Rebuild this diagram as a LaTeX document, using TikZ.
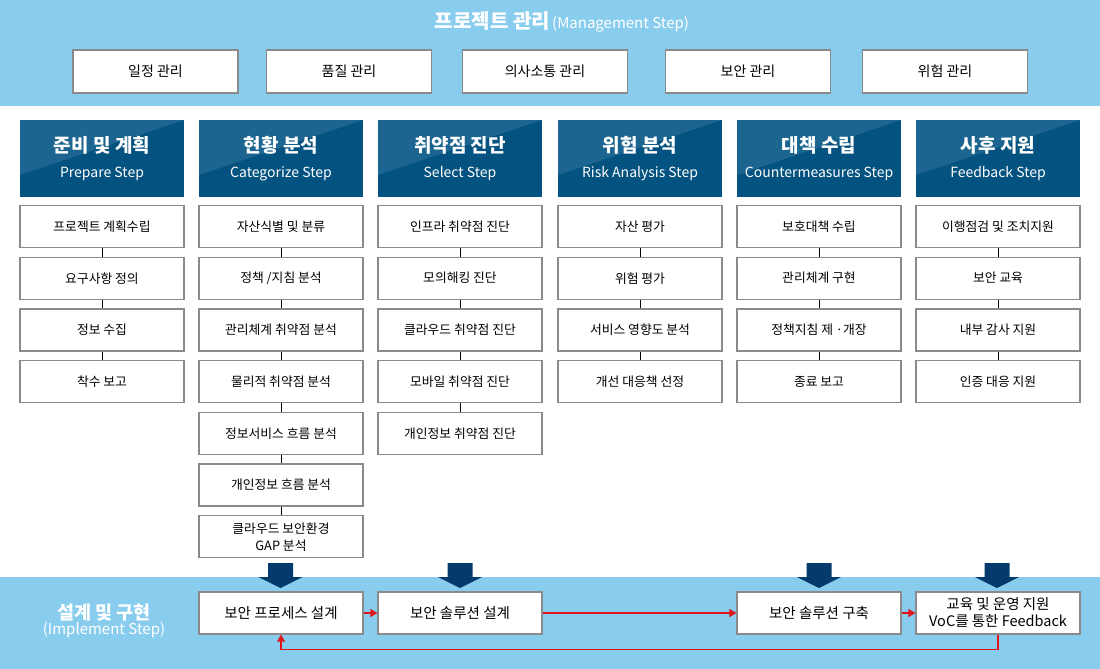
\documentclass[tikz,border=0pt]{standalone}
\usepackage{fontspec}
\setmainfont{Noto Sans CJK KR}
\usetikzlibrary{arrows.meta}

\definecolor{bandblue}{HTML}{89CDEE}
\definecolor{headblue}{HTML}{03527F}
\definecolor{glossblue}{HTML}{1B6590}
\definecolor{arrowblue}{HTML}{043B6C}
\definecolor{boxgray}{HTML}{8A8A8A}
\definecolor{flowred}{HTML}{E0141B}

\tikzset{
    mgmt/.style={draw=boxgray, line width=1.2pt, fill=white, minimum width=165pt,
        minimum height=43pt, font=\fontsize{14}{16}\selectfont},
    head/.style={fill=headblue, minimum width=164pt, minimum height=77pt, text=white,
        align=center, font=\fontsize{14}{25}\selectfont,
        path picture={\fill[glossblue] (path picture bounding box.north west)
            -- (path picture bounding box.north east)
            -- ([yshift=22pt]path picture bounding box.south west) -- cycle;}},
    item/.style={draw=boxgray, line width=1.2pt, fill=white, minimum width=164pt,
        minimum height=42pt, align=center, font=\fontsize{12.8}{17}\selectfont},
    impl/.style={item, font=\fontsize{14.5}{17}\selectfont},
    flow/.style={draw=flowred, line width=1.2pt, -{Triangle[length=7pt,width=8pt]}},
}

\begin{document}
\begin{tikzpicture}[x=1pt, y=-1pt]
        \useasboundingbox (0,0) rectangle (1100,669);
        \fill[bandblue] (0,0) rectangle (1100,106);
        \fill[bandblue] (0,577) rectangle (1100,669);

        \node[text=white] (title) at (562,22) {{\fontsize{20}{22}\selectfont\bfseries 프로젝트 관리} {\fontsize{15}{16}\selectfont (Management Step)}};
        \begin{scope}[every node/.style={mgmt}]
            \node (m1) at (155.5,71.5) {일정 관리};
            \node (m2) at (349,71.5) {품질 관리};
            \node (m3) at (545,71.5) {의사소통 관리};
            \node (m4) at (748,71.5) {보안 관리};
            \node (m5) at (945,71.5) {위험 관리};
        \end{scope}

        \begin{scope}[every node/.style={head}]
            \node (h1) at (102,158.5) {{\fontsize{19}{25}\selectfont\bfseries 준비 및 계획}\\Prepare Step};
            \node (h2) at (281,158.5) {{\fontsize{19}{25}\selectfont\bfseries 현황 분석}\\Categorize Step};
            \node (h3) at (460,158.5) {{\fontsize{19}{25}\selectfont\bfseries 취약점 진단}\\Select Step};
            \node (h4) at (640,158.5) {{\fontsize{19}{25}\selectfont\bfseries 위험 분석}\\Risk Analysis Step};
            \node (h5) at (819,158.5) {{\fontsize{19}{25}\selectfont\bfseries 대책 수립}\\Countermeasures Step};
            \node (h6) at (998,158.5) {{\fontsize{19}{25}\selectfont\bfseries 사후 지원}\\Feedback Step};
        \end{scope}

        \begin{scope}[every node/.style={item}]
            \node (a1) at (102,226.5) {프로젝트 계획수립};
            \node (a2) at (102,278.2) {요구사항 정의};
            \node (a3) at (102,329.9) {정보 수집};
            \node (a4) at (102,381.6) {착수 보고};
            \node (b1) at (281,226.5) {자산식별 및 분류};
            \node (b2) at (281,278.2) {정책 /지침 분석};
            \node (b3) at (281,329.9) {관리체계 취약점 분석};
            \node (b4) at (281,381.6) {물리적 취약점 분석};
            \node (b5) at (281,433.3) {정보서비스 흐름 분석};
            \node (b6) at (281,485) {개인정보 흐름 분석};
            \node (b7) at (281,536.7) {클라우드 보안환경\\GAP 분석};
            \node (c1) at (460,226.5) {인프라 취약점 진단};
            \node (c2) at (460,278.2) {모의해킹 진단};
            \node (c3) at (460,329.9) {클라우드 취약점 진단};
            \node (c4) at (460,381.6) {모바일 취약점 진단};
            \node (c5) at (460,433.3) {개인정보 취약점 진단};
            \node (d1) at (640,226.5) {자산 평가};
            \node (d2) at (640,278.2) {위험 평가};
            \node (d3) at (640,329.9) {서비스 영향도 분석};
            \node (d4) at (640,381.6) {개선 대응책 선정};
            \node (e1) at (819,226.5) {보호대책 수립};
            \node (e2) at (819,278.2) {관리체계 구현};
            \node (e3) at (819,329.9) {정책지침 제 ·개장};
            \node (e4) at (819,381.6) {종료 보고};
            \node (f1) at (998,226.5) {이행점검 및 조치지원};
            \node (f2) at (998,278.2) {보안 교육};
            \node (f3) at (998,329.9) {내부 감사 지원};
            \node (f4) at (998,381.6) {인증 대응 지원};
        \end{scope}
        \begin{scope}[line width=0.8pt]
            \path [-] (a1) edge (a2);
            \path [-] (a2) edge (a3);
            \path [-] (a3) edge (a4);
            \path [-] (b1) edge (b2);
            \path [-] (b2) edge (b3);
            \path [-] (b3) edge (b4);
            \path [-] (b4) edge (b5);
            \path [-] (b5) edge (b6);
            \path [-] (b6) edge (b7);
            \path [-] (c1) edge (c2);
            \path [-] (c2) edge (c3);
            \path [-] (c3) edge (c4);
            \path [-] (c4) edge (c5);
            \path [-] (d1) edge (d2);
            \path [-] (d2) edge (d3);
            \path [-] (d3) edge (d4);
            \path [-] (e1) edge (e2);
            \path [-] (e2) edge (e3);
            \path [-] (e3) edge (e4);
            \path [-] (f1) edge (f2);
            \path [-] (f2) edge (f3);
            \path [-] (f3) edge (f4);
        \end{scope}

        % implement step
        \node[text=white, align=center] (impl) at (104,621) {{\fontsize{18.5}{24}\selectfont\bfseries 설계 및 구현}\\{\fontsize{15}{24}\selectfont (Implement Step)}};
        \begin{scope}[every node/.style={impl}]
            \node (i1) at (281,613) {보안 프로세스 설계};
            \node (i2) at (460,613) {보안 솔루션 설계};
            \node (i3) at (819,613) {보안 솔루션 구축};
            \node (i4) at (998,613) {교육 및 운영 지원\\VoC를 통한 Feedback};
        \end{scope}
        \foreach \x in {280.5,460,819,997}
            \fill[arrowblue] (\x-12.5,563) -- (\x+12.5,563) -- (\x+12.5,577) -- (\x+22,577)
                -- (\x,588) -- (\x-22,577) -- (\x-12.5,577) -- cycle;
        \draw[flow] (i1) -- (i2);
        \draw[flow] (i2) -- (i3);
        \draw[flow] (i3) -- (i4);
        \draw[flow] (i4.south) -- ++(0,15) -| (i1.south);
    \end{tikzpicture}
\end{document}
